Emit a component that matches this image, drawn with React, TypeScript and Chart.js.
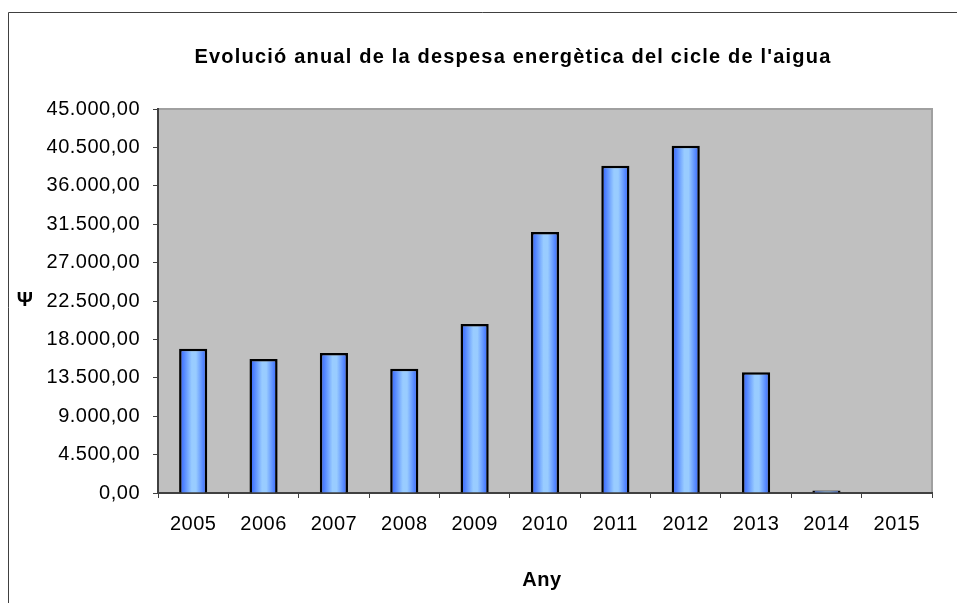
import React, { useEffect, useRef } from 'react';
import { Chart, registerables } from 'chart.js';

Chart.register(...registerables);

const years = ['2005', '2006', '2007', '2008', '2009', '2010', '2011', '2012', '2013', '2014', '2015'];
const despesa = [16900, 15700, 16400, 14550, 19800, 30600, 38350, 40700, 14150, 300, 0];
const yMin = 0;
const yMax = 45000;
const yStep = 4500;
const chartTitle = "Evolució anual de la despesa energètica del cicle de l'aigua";
const yTitle = 'Ψ';
const xTitle = 'Any';

const FONT = 'Arial, "Liberation Sans", sans-serif';
const SPACING = '0.5px';

function fmt(v: number): string {
  const fixed = Math.abs(v).toFixed(2);
  const [i, d] = fixed.split('.');
  const grouped = i.replace(/\B(?=(\d{3})+(?!\d))/g, '.');
  return (v < 0 ? '-' : '') + grouped + ',' + d;
}

const decorPlugin = {
  id: 'decor',
  beforeUpdate(chart: any) {
    chart.ctx.letterSpacing = SPACING;
  },
  beforeDraw(chart: any) {
    const ctx = chart.ctx;
    ctx.letterSpacing = SPACING;
    const { left, top, right, bottom } = chart.chartArea;
    ctx.save();
    ctx.fillStyle = '#ffffff';
    ctx.fillRect(0, 0, chart.width, chart.height);
    // outer frame
    ctx.strokeStyle = '#404040';
    ctx.lineWidth = 1;
    ctx.beginPath();
    ctx.moveTo(8.5, chart.height);
    ctx.lineTo(8.5, 12.5);
    ctx.lineTo(chart.width, 12.5);
    ctx.stroke();
    // plot background
    ctx.fillStyle = '#C0C0C0';
    ctx.fillRect(left, top, right - left, bottom - top);
    ctx.strokeStyle = '#A0A0A0';
    ctx.lineWidth = 2;
    ctx.beginPath();
    ctx.moveTo(left, top);
    ctx.lineTo(right, top);
    ctx.lineTo(right, bottom);
    ctx.stroke();
    // texts
    ctx.fillStyle = '#000000';
    ctx.textAlign = 'center';
    ctx.textBaseline = 'middle';
    ctx.letterSpacing = '1.2px';
    ctx.font = 'bold 20px ' + FONT;
    ctx.fillText(chartTitle, 513, 57);
    ctx.letterSpacing = '0.5px';
    ctx.fillText(xTitle, (left + right) / 2 - 3, 580);
    ctx.fillText(yTitle, 25, 300);
    ctx.restore();
  },
};

export default function App() {
  const ref = useRef<HTMLCanvasElement | null>(null);

  useEffect(() => {
    if (!ref.current) return;
    const chart = new Chart(ref.current, {
      type: 'bar',
      data: {
        labels: years,
        datasets: [
          {
            data: despesa,
            backgroundColor: (c: any) => {
              const ch = c.chart;
              const xs = ch.scales && ch.scales.x;
              if (!xs || c.type !== 'data') return '#6699FF';
              const cx = xs.getPixelForValue(c.dataIndex);
              const w = (xs.width / years.length) * 0.4;
              if (!Number.isFinite(cx) || !Number.isFinite(w) || w <= 0) return '#6699FF';
              const g = ch.ctx.createLinearGradient(cx - w / 2, 0, cx + w / 2, 0);
              g.addColorStop(0, '#2E5CFF');
              g.addColorStop(0.18, '#5588FF');
              g.addColorStop(0.45, '#99CCFF');
              g.addColorStop(0.6, '#99CCFF');
              g.addColorStop(0.85, '#5588FF');
              g.addColorStop(1, '#2E5CFF');
              return g;
            },
            borderColor: '#000000',
            borderWidth: 2.5,
            categoryPercentage: 1,
            barPercentage: 0.4,
          },
        ],
      },
      options: {
        responsive: false,
        animation: false,
        devicePixelRatio: 1,
        layout: { padding: { left: 8, top: 109, right: 25, bottom: 0 } },
        plugins: {
          legend: { display: false },
          title: { display: false },
          tooltip: { enabled: false },
        },
        scales: {
          x: {
            offset: true,
            grid: { offset: true, drawOnChartArea: false, drawTicks: true, tickLength: 5, color: '#404040', lineWidth: 1 },
            border: { display: true, color: '#404040', width: 2 },
            ticks: { color: '#000000', font: { family: FONT, size: 20 }, padding: 14, maxRotation: 0, autoSkip: false },
            afterFit(scale: any) {
              scale.height = 110;
            },
          },
          y: {
            min: yMin,
            max: yMax,
            ticks: {
              stepSize: yStep,
              callback: (v: any) => fmt(Number(v)),
              color: '#000000',
              font: { family: FONT, size: 20 },
              padding: 13,
            },
            grid: { drawOnChartArea: false, drawTicks: true, tickLength: 5, color: '#404040', lineWidth: 1 },
            border: { display: true, color: '#404040', width: 2 },
            afterFit(scale: any) {
              scale.width = 150;
            },
          },
        },
      },
      plugins: [decorPlugin],
    });
    return () => chart.destroy();
  }, []);

  return (
    <div style={{ position: 'absolute', left: 0, top: 0, width: 957, height: 603, background: '#fff' }}>
      <canvas ref={ref} width={957} height={603} style={{ display: 'block' }} />
    </div>
  );
}
